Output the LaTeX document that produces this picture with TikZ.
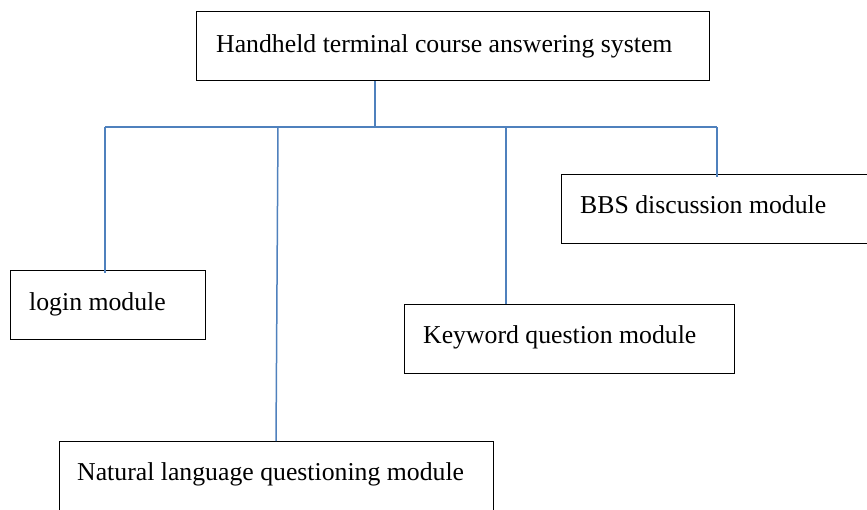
\documentclass[tikz,border=0pt]{standalone}
\usepackage{fontspec}
\setmainfont{Liberation Serif}
\definecolor{linkblue}{HTML}{4F81BD}
\begin{document}
\begin{tikzpicture}[x=1pt,y=-1pt,
  box/.style={draw=black, line width=1.3pt, inner sep=0pt, anchor=north west},
  link/.style={draw=linkblue, line width=1.5pt},
  lbl/.style={anchor=base west, inner sep=0pt, font=\fontsize{25.75}{30}\selectfont}]
\useasboundingbox (0,0) rectangle (867,509);
\clip (0,0) rectangle (867,509);
\fill[white] (0,0) rectangle (867,509);

% module boxes
\node[box, minimum width=513pt, minimum height=69pt] (sys) at (196,11) {};
\node[box, minimum width=195pt, minimum height=69pt] (login) at (10,270) {};
\node[box, minimum width=340pt, minimum height=69pt] (bbs) at (561,174) {};
\node[box, minimum width=330pt, minimum height=69pt] (kw) at (404,304) {};
\node[box, minimum width=434pt, minimum height=100pt] (nl) at (59,441) {};

% labels
\node[lbl] (sysT) at (216,52) {Handheld terminal course answering system};
\node[lbl] (loginT) at (29,310) {login module};
\node[lbl] (bbsT) at (580,213) {BBS discussion module};
\node[lbl] (kwT) at (423,343) {Keyword question module};
\node[lbl] (nlT) at (77,480) {Natural language questioning module};

% tree connectors
\coordinate (hub) at (375,127);
\coordinate (busL) at (105,127);
\coordinate (busR) at (717,127);
\coordinate (nlTop) at (278,127);
\coordinate (nlEnd) at (276,441);
\coordinate (kwTop) at (506,127);
\draw[link] (sys.south -| hub) -- (hub);
\draw[link] (busL) -- (busR);
\draw[link] (busL) -- ([yshift=-3pt]login.north -| busL);
\draw[link] (nlTop) -- (nlEnd);
\draw[link] (kwTop) -- (kw.north -| kwTop);
\draw[link] (busR) -- ([yshift=-3pt]bbs.north -| busR);
\end{tikzpicture}
\end{document}
